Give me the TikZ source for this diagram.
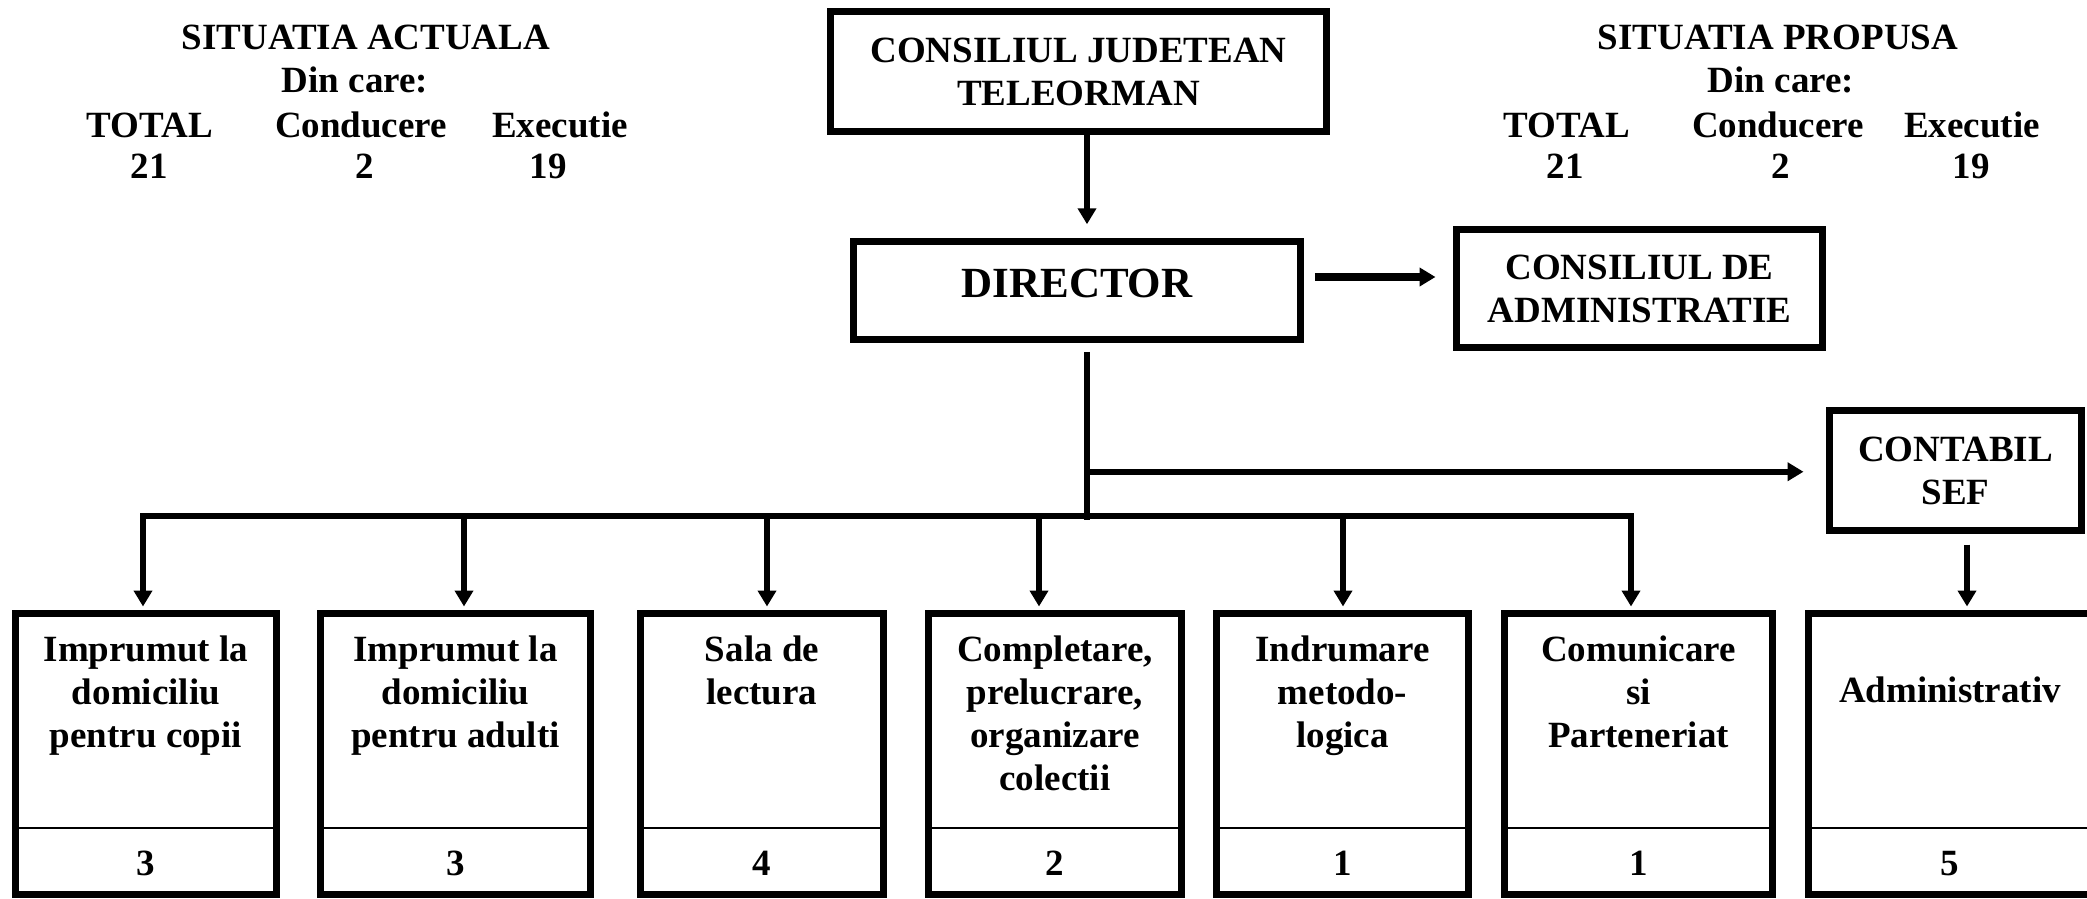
\documentclass[tikz,border=0pt]{standalone}
\usepackage{fontspec}
\setmainfont{Liberation Serif}
\usetikzlibrary{arrows.meta,calc}
\newcommand{\stk}[1]{\parbox[t]{160pt}{\centering #1}}
\tikzset{
  every node/.style={font=\fontsize{18.5}{21.5}\selectfont\bfseries, inner sep=0pt},
  box/.style={draw, line width=3.5pt, rectangle, align=center},
  lbl/.style={anchor=base},
  arr/.style={line width=2.75pt, -{Triangle[width=9pt,length=8pt]}},
  arrboth/.style={line width=2.75pt, {Triangle[width=9pt,length=8pt]}-{Triangle[width=9pt,length=8pt]}},
  conn/.style={line width=2.75pt},
  divider/.style={line width=1pt},
}
\begin{document}
\begin{tikzpicture}[x=0.5pt,y=-0.5pt]
\useasboundingbox (0,0) rectangle (2087,899);
\clip (0,0) rectangle (2087,899);

% headers
\node[lbl] (la1) at (366,50) {SITUATIA ACTUALA};
\node[lbl] (la2) at (355,93) {Din care:};
\node[lbl] (la3) at (150,137) {TOTAL};
\node[lbl] (la4) at (361,137) {Conducere};
\node[lbl] (la5) at (560,137) {Executie};
\node[lbl] (la6) at (149,178) {21};
\node[lbl] (la7) at (365,178) {2};
\node[lbl] (la8) at (548,178) {19};

\node[lbl] (ra1) at (1778,50) {SITUATIA PROPUSA};
\node[lbl] (ra2) at (1781,93) {Din care:};
\node[lbl] (ra3) at (1567,137) {TOTAL};
\node[lbl] (ra4) at (1778,137) {Conducere};
\node[lbl] (ra5) at (1972,137) {Executie};
\node[lbl] (ra6) at (1565,178) {21};
\node[lbl] (ra7) at (1781,178) {2};
\node[lbl] (ra8) at (1971,178) {19};

% top boxes
\node[box, line width=3.75pt, minimum width=248pt, minimum height=60pt] (cj) at (1078.5,71.5) {CONSILIUL JUDETEAN\\TELEORMAN};
\node[box, line width=3.75pt, minimum width=223.5pt, minimum height=49pt, font=\fontsize{21.5}{25}\selectfont\bfseries, text depth=7pt] (dir) at (1077,290.5) {DIRECTOR};
\node[box, minimum width=183pt, minimum height=59pt] (ca) at (1639.5,288.5) {CONSILIUL DE\\ADMINISTRATIE};
\node[box, minimum width=126pt, minimum height=60pt] (cs) at (1955.5,470.5) {CONTABIL\\SEF};

% bottom boxes
\node[box, minimum width=130.5pt, minimum height=140.5pt] (b1) at (146,754) {};
\node[box, minimum width=135pt, minimum height=140.5pt] (b2) at (455.5,754) {};
\node[box, minimum width=121.5pt, minimum height=140.5pt] (b3) at (762,754) {};
\node[box, minimum width=126.5pt, minimum height=140.5pt] (b4) at (1055,754) {};
\node[box, minimum width=126pt, minimum height=140.5pt] (b5) at (1342.5,754) {};
\node[box, minimum width=134pt, minimum height=140.5pt] (b6) at (1638.5,754) {};
\node[box, minimum width=151.5pt, minimum height=140.5pt] (b7) at (1960,754) {};

\coordinate (dv) at (0,828);
\foreach \b in {b1,b2,b3,b4,b5,b6,b7}{
  \draw[divider] (\b.west |- dv) -- (\b.east |- dv);
}

\node[lbl] (t1) at (146,661) {\stk{Imprumut la\\domiciliu\\pentru copii}};
\node[lbl] (t2) at (455.5,661) {\stk{Imprumut la\\domiciliu\\pentru adulti}};
\node[lbl] (t3) at (762,661) {\stk{Sala de\\lectura}};
\node[lbl] (t4) at (1055,661) {\stk{Completare,\\prelucrare,\\organizare\\colectii}};
\node[lbl] (t5) at (1342.5,661) {\stk{Indrumare\\metodo-\\logica}};
\node[lbl] (t6) at (1638.5,661) {\stk{Comunicare\\si\\Parteneriat}};
\node[lbl] (t7) at (1950,702) {Administrativ};

\node[lbl] (n1) at (146,875) {3};
\node[lbl] (n2) at (455.5,875) {3};
\node[lbl] (n3) at (762,875) {4};
\node[lbl] (n4) at (1055,875) {2};
\node[lbl] (n5) at (1342.5,875) {1};
\node[lbl] (n6) at (1638.5,875) {1};
\node[lbl] (n7) at (1950,875) {5};

% connectors
\draw[arr] ($(cj.south)+(8.5,0)$) -- ($(dir.north)+(10,-13.5)$);
\coordinate (p) at ($(dir.east)+(10.5,-13.5)$);
\draw[arr, line width=3.75pt] (p) -- ($(p -| ca.west)+(-17.5,0)$);

\coordinate (j) at ($(dir.south)+(10,176.5)$);
\coordinate (k) at ($(dir.south)+(10,128.5)$);
\draw[conn] ($(dir.south)+(10,8.5)$) -- (j);
\draw[arr] (k) -- ($(k -| cs.west)+(-22.5,0)$);

\coordinate (d1) at (143,516);
\coordinate (d2) at (464,516);
\coordinate (d3) at (767,516);
\coordinate (d4) at (1039,516);
\coordinate (d5) at (1343,516);
\coordinate (d6) at (1631,516);
\draw[arrboth] ($(d1 |- b1.north)+(0,-3.5)$) -- (d1) -- (d6) -- ($(d6 |- b6.north)+(0,-3.5)$);
\draw[arr] (d2) -- ($(d2 |- b2.north)+(0,-3.5)$);
\draw[arr] (d3) -- ($(d3 |- b3.north)+(0,-3.5)$);
\draw[arr] (d4) -- ($(d4 |- b4.north)+(0,-3.5)$);
\draw[arr] (d5) -- ($(d5 |- b5.north)+(0,-3.5)$);

\coordinate (q) at ($(cs.south)+(11.5,10.5)$);
\draw[arr] (q) -- ($(q |- b7.north)+(0,-3.5)$);
\end{tikzpicture}
\end{document}
